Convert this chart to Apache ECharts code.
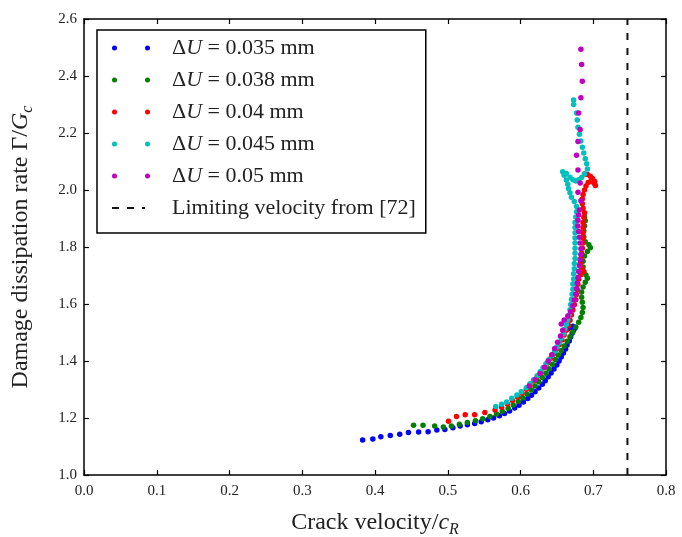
<!DOCTYPE html>
<html><head><meta charset="utf-8">
<script src="https://cdn.jsdelivr.net/npm/echarts/dist/echarts.min.js"></script>
<style>html,body{margin:0;padding:0;background:#fff}#c{width:682px;height:537px}</style>
</head><body><div id="c"></div>
<script>
const xTickLabels = ['0.0','0.1','0.2','0.3','0.4','0.5','0.6','0.7','0.8'];
const yTickLabels = ['1.0','1.2','1.4','1.6','1.8','2.0','2.2','2.4','2.6'];
const seriesNames = ['ΔU = 0.035 mm','ΔU = 0.038 mm','ΔU = 0.04 mm','ΔU = 0.045 mm','ΔU = 0.05 mm'];
const limitName = 'Limiting velocity from [72]';
const limitVelocity = 0.747;

const dU035 = [[0.383,1.123],[0.397,1.126],[0.408,1.134],[0.421,1.139],[0.434,1.143],[0.446,1.149],[0.460,1.151],[0.473,1.152],[0.485,1.158],[0.496,1.160],[0.507,1.166],[0.517,1.172],[0.527,1.176],[0.537,1.181],[0.546,1.187],[0.555,1.194],[0.563,1.200],[0.571,1.208],[0.578,1.216],[0.585,1.225],[0.592,1.235],[0.598,1.245],[0.604,1.256],[0.610,1.268],[0.615,1.280],[0.620,1.292],[0.625,1.305],[0.630,1.318],[0.634,1.331],[0.638,1.345],[0.642,1.358],[0.646,1.372],[0.650,1.386],[0.653,1.400],[0.656,1.414],[0.659,1.428],[0.662,1.442],[0.664,1.456],[0.667,1.470],[0.669,1.484],[0.671,1.497],[0.673,1.508],[0.675,1.516],[0.672,1.522],[0.668,1.518],[0.665,1.512]];
const dU038 = [[0.453,1.175],[0.466,1.175],[0.482,1.172],[0.494,1.168],[0.505,1.172],[0.516,1.178],[0.527,1.184],[0.538,1.190],[0.548,1.197],[0.558,1.205],[0.567,1.214],[0.575,1.224],[0.583,1.234],[0.590,1.246],[0.597,1.258],[0.603,1.271],[0.609,1.284],[0.615,1.298],[0.620,1.312],[0.625,1.327],[0.630,1.342],[0.635,1.357],[0.639,1.373],[0.644,1.389],[0.648,1.405],[0.652,1.421],[0.656,1.437],[0.660,1.453],[0.664,1.469],[0.668,1.485],[0.672,1.502],[0.676,1.519],[0.680,1.536],[0.683,1.553],[0.685,1.570],[0.686,1.588],[0.685,1.606],[0.684,1.624],[0.684,1.642],[0.686,1.660],[0.689,1.676],[0.692,1.690],[0.690,1.702],[0.687,1.712],[0.686,1.730],[0.686,1.750],[0.688,1.768],[0.692,1.784],[0.696,1.797],[0.694,1.808],[0.689,1.818],[0.687,1.836],[0.687,1.856],[0.688,1.874],[0.689,1.892],[0.688,1.906]];
const dU040 = [[0.501,1.189],[0.512,1.205],[0.524,1.211],[0.537,1.211],[0.551,1.219],[0.565,1.228],[0.574,1.238],[0.582,1.249],[0.589,1.261],[0.596,1.274],[0.602,1.287],[0.608,1.301],[0.613,1.315],[0.618,1.330],[0.623,1.345],[0.628,1.360],[0.632,1.376],[0.637,1.392],[0.641,1.408],[0.645,1.424],[0.649,1.440],[0.653,1.457],[0.657,1.474],[0.660,1.491],[0.663,1.508],[0.666,1.525],[0.668,1.543],[0.670,1.561],[0.672,1.579],[0.674,1.597],[0.676,1.615],[0.677,1.633],[0.678,1.651],[0.679,1.669],[0.680,1.687],[0.683,1.703],[0.687,1.714],[0.684,1.726],[0.682,1.742],[0.683,1.760],[0.684,1.778],[0.685,1.796],[0.686,1.814],[0.686,1.832],[0.686,1.850],[0.686,1.868],[0.686,1.886],[0.687,1.904],[0.688,1.920],[0.686,1.936],[0.685,1.952],[0.685,1.968],[0.686,1.984],[0.688,2.000],[0.690,2.014],[0.693,2.026],[0.697,2.032],[0.701,2.024],[0.703,2.016],[0.702,2.030],[0.699,2.040],[0.696,2.048],[0.692,2.054],[0.688,2.056]];
const dU045 = [[0.566,1.240],[0.574,1.248],[0.581,1.256],[0.588,1.269],[0.595,1.281],[0.601,1.292],[0.608,1.306],[0.613,1.320],[0.618,1.334],[0.623,1.348],[0.627,1.362],[0.631,1.376],[0.635,1.390],[0.639,1.404],[0.643,1.419],[0.647,1.434],[0.650,1.449],[0.653,1.464],[0.656,1.480],[0.659,1.496],[0.661,1.512],[0.663,1.528],[0.665,1.545],[0.667,1.562],[0.668,1.580],[0.669,1.598],[0.670,1.616],[0.671,1.634],[0.672,1.652],[0.672,1.670],[0.673,1.688],[0.673,1.706],[0.674,1.724],[0.674,1.742],[0.675,1.760],[0.675,1.778],[0.675,1.796],[0.675,1.814],[0.675,1.832],[0.675,1.850],[0.675,1.868],[0.675,1.886],[0.676,1.905],[0.677,1.924],[0.677,1.942],[0.674,1.960],[0.670,1.975],[0.668,1.990],[0.666,2.005],[0.665,2.020],[0.663,2.035],[0.660,2.052],[0.658,2.064],[0.663,2.058],[0.668,2.045],[0.672,2.036],[0.676,2.032],[0.680,2.036],[0.684,2.044],[0.688,2.056],[0.692,2.074],[0.691,2.092],[0.689,2.110],[0.687,2.130],[0.685,2.150],[0.683,2.172],[0.681,2.196],[0.679,2.220],[0.678,2.246],[0.677,2.270],[0.673,2.300],[0.673,2.316]];
const dU050 = [[0.612,1.312],[0.620,1.334],[0.627,1.356],[0.633,1.378],[0.638,1.400],[0.643,1.422],[0.647,1.444],[0.651,1.466],[0.655,1.488],[0.658,1.508],[0.656,1.530],[0.660,1.544],[0.665,1.558],[0.669,1.574],[0.672,1.594],[0.674,1.614],[0.676,1.634],[0.677,1.654],[0.678,1.674],[0.679,1.694],[0.680,1.714],[0.681,1.734],[0.682,1.754],[0.683,1.774],[0.683,1.794],[0.682,1.814],[0.681,1.834],[0.680,1.854],[0.679,1.874],[0.679,1.894],[0.680,1.912],[0.681,1.930],[0.683,1.962],[0.679,1.992],[0.682,2.025],[0.679,2.070],[0.677,2.122],[0.679,2.170],[0.682,2.212],[0.680,2.270],[0.683,2.324],[0.685,2.382],[0.684,2.440],[0.683,2.494]];

const seriesData = [dU035, dU038, dU040, dU045, dU050];
const seriesColors = ['#0000ff', '#008000', '#ff0000', '#00bfbf', '#bf00bf'];

const xMin = parseFloat(xTickLabels[0]), xMax = parseFloat(xTickLabels[xTickLabels.length-1]);
const yMin = parseFloat(yTickLabels[0]), yMax = parseFloat(yTickLabels[yTickLabels.length-1]);

const FONT = 'Liberation Serif';
const dotIcon = 'path://M0,2.5a2.5,2.5 0 1,0 5,0a2.5,2.5 0 1,0 -5,0zM33,2.5a2.5,2.5 0 1,0 5,0a2.5,2.5 0 1,0 -5,0z';
const dashIcon = 'path://M0,1.5h7v2h-7zM15,1.5h7v2h-7zM30,1.5h3v2h-3zM38,0M38,5M0,0';

const axisCommon = {
  axisLine: {show: true, onZero: false, lineStyle: {color: '#000', width: 1.5}},
  axisTick: {show: true, inside: true, length: 5, lineStyle: {color: '#000', width: 1.2}},
  splitLine: {show: false},
  minorTick: {show: false}
};
const nameRich = {
  t: {fontFamily: FONT, fontSize: 24, color: '#222', lineHeight: 30, verticalAlign: 'middle'},
  i: {fontFamily: FONT, fontSize: 24, fontStyle: 'italic', color: '#222', lineHeight: 30, verticalAlign: 'middle'},
  s: {fontFamily: FONT, fontSize: 16, fontStyle: 'italic', color: '#222', lineHeight: 30, verticalAlign: 'bottom'}
};

const chart = echarts.init(document.getElementById('c'), null, {renderer: 'canvas'});
const series = seriesNames.map((n, i) => ({
  name: n, type: 'scatter', xAxisIndex: 0, yAxisIndex: 0,
  data: seriesData[i], symbol: 'circle', symbolSize: 5.5,
  itemStyle: {color: seriesColors[i], opacity: 1}, z: 3 + i, animation: false
}));
series.push({
  name: limitName, type: 'line', xAxisIndex: 0, yAxisIndex: 0,
  data: [[limitVelocity, yMin], [limitVelocity, yMax]],
  showSymbol: false, symbol: 'none',
  lineStyle: {color: '#111', width: 2, type: [7, 8]},
  itemStyle: {color: '#111'}, animation: false, z: 2
});

chart.setOption({
  animation: false,
  backgroundColor: '#fff',
  grid: {left: 84, top: 19, right: 16, bottom: 62, containLabel: false, outerBoundsMode: 'none', show: false},
  xAxis: [
    Object.assign({type: 'value', position: 'bottom', min: xMin, max: xMax, interval: 0.1,
      axisLabel: {show: true, margin: 9, color: '#222', fontFamily: FONT, fontSize: 15,
        formatter: v => xTickLabels[Math.round((v - xMin) / 0.1)]},
      name: '{t|Crack velocity/}{i|c}{s|R}', nameLocation: 'middle', nameGap: 33,
      nameTextStyle: {rich: nameRich}}, axisCommon),
    Object.assign({type: 'value', position: 'top', min: xMin, max: xMax, interval: 0.1,
      axisLabel: {show: false}}, axisCommon)
  ],
  yAxis: [
    Object.assign({type: 'value', position: 'left', min: yMin, max: yMax, interval: 0.2,
      axisLabel: {show: true, margin: 7, color: '#222', fontFamily: FONT, fontSize: 15,
        formatter: v => yTickLabels[Math.round((v - yMin) / 0.2)]},
      name: '{t|Damage dissipation rate Γ/}{i|G}{s|c}', nameLocation: 'middle', nameGap: 48, nameRotate: 90,
      nameTextStyle: {rich: nameRich}}, axisCommon),
    Object.assign({type: 'value', position: 'right', min: yMin, max: yMax, interval: 0.2,
      axisLabel: {show: false}}, axisCommon)
  ],
  legend: {
    show: true, orient: 'vertical', left: 97, top: 30,
    padding: [7, 10, 14, 15], itemGap: 10, itemWidth: 38, itemHeight: 5,
    backgroundColor: '#fff', borderColor: '#000', borderWidth: 1.5, borderRadius: 0,
    selectedMode: false,
    data: seriesNames.map(n => ({name: n, icon: dotIcon})).concat([{name: limitName, icon: dashIcon}]),
    formatter: name => name.indexOf('ΔU') === 0 ? '{d|Δ}{i|U}{t|' + name.slice(2) + '}' : '{t|' + name + '}',
    textStyle: {fontFamily: FONT, fontSize: 22, color: '#222', lineHeight: 22, padding: [0, 0, 0, 17],
      rich: {
        d: {fontFamily: FONT, fontSize: 22, color: '#222', lineHeight: 22},
        i: {fontFamily: FONT, fontSize: 22, fontStyle: 'italic', color: '#222', lineHeight: 22},
        t: {fontFamily: FONT, fontSize: 22, color: '#222', lineHeight: 22}
      }}
  },
  series: series
});
</script>
</body></html>
